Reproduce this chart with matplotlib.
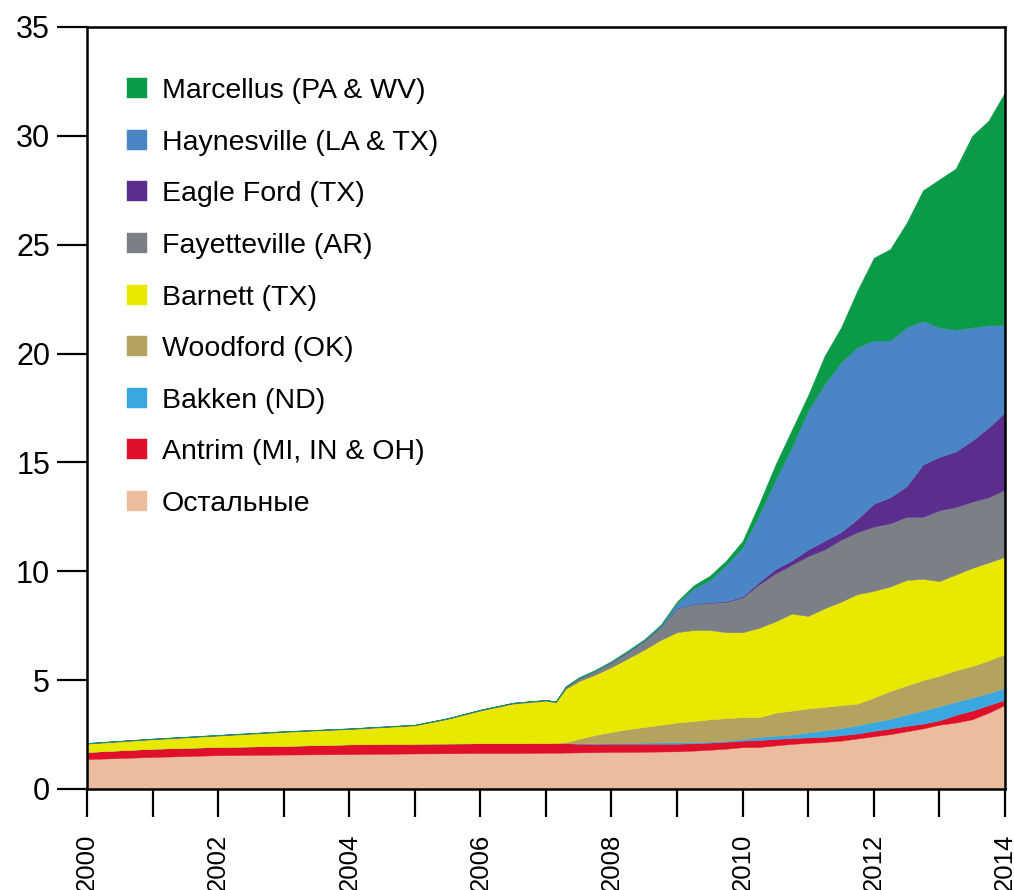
import matplotlib
matplotlib.use("Agg")
import matplotlib.pyplot as plt

plt.rcParams['font.family'] = ['Liberation Sans', 'DejaVu Sans']

# time points (years)
years = [2000, 2001, 2002, 2003, 2004, 2005, 2005.5, 2006, 2006.5, 2007,
         2007.15, 2007.3, 2007.5, 2007.75, 2008, 2008.25, 2008.5, 2008.75,
         2009, 2009.25, 2009.5, 2009.75, 2010, 2010.25, 2010.5, 2010.75,
         2011, 2011.25, 2011.5, 2011.75, 2012, 2012.25, 2012.5, 2012.75,
         2013, 2013.25, 2013.5, 2013.75, 2014]

# production by play (stacked from bottom)
others = [1.37, 1.47, 1.55, 1.58, 1.60, 1.63, 1.64, 1.65, 1.65, 1.66,
          1.66, 1.67, 1.68, 1.69, 1.70, 1.70, 1.71, 1.72,
          1.73, 1.76, 1.80, 1.85, 1.92, 1.93, 2.00, 2.07,
          2.12, 2.16, 2.22, 2.32, 2.42, 2.52, 2.65, 2.78,
          2.95, 3.05, 3.20, 3.50, 3.86]
antrim = [0.33, 0.38, 0.38, 0.40, 0.45, 0.45, 0.45, 0.45, 0.45, 0.44,
          0.44, 0.43, 0.40, 0.38, 0.38, 0.38, 0.37, 0.36,
          0.35, 0.34, 0.33, 0.32, 0.30, 0.32, 0.30, 0.27,
          0.25, 0.24, 0.25, 0.23, 0.25, 0.26, 0.25, 0.22,
          0.20, 0.35, 0.40, 0.35, 0.23]
bakken = [0, 0, 0, 0, 0, 0, 0, 0, 0, 0,
          0, 0, 0.02, 0.03, 0.03, 0.04, 0.05, 0.06,
          0.07, 0.06, 0.05, 0.05, 0.08, 0.14, 0.15, 0.16,
          0.23, 0.30, 0.33, 0.37, 0.41, 0.44, 0.52, 0.60,
          0.65, 0.60, 0.60, 0.55, 0.55]
woodford = [0, 0, 0, 0, 0, 0, 0, 0, 0, 0.01,
            0.02, 0.05, 0.20, 0.38, 0.51, 0.63, 0.72, 0.81,
            0.90, 0.96, 1.02, 1.03, 1.00, 0.91, 1.05, 1.10,
            1.10, 1.07, 1.05, 1.00, 1.12, 1.28, 1.33, 1.40,
            1.40, 1.45, 1.45, 1.50, 1.56]
barnett = [0.38, 0.43, 0.52, 0.64, 0.70, 0.84, 1.13, 1.50, 1.82, 1.94,
           1.86, 2.45, 2.65, 2.77, 2.98, 3.25, 3.55, 3.90,
           4.15, 4.18, 4.10, 3.95, 3.90, 4.10, 4.20, 4.45,
           4.25, 4.53, 4.75, 5.03, 4.90, 4.80, 4.85, 4.65,
           4.35, 4.40, 4.50, 4.50, 4.46]
fayetteville = [0.02, 0.02, 0.02, 0.02, 0.02, 0.02, 0.02, 0.03, 0.03, 0.03,
                0.03, 0.08, 0.13, 0.17, 0.22, 0.30, 0.40, 0.60,
                1.10, 1.20, 1.25, 1.40, 1.60, 2.00, 2.20, 2.25,
                2.75, 2.70, 2.85, 2.85, 2.95, 2.90, 2.90, 2.85,
                3.25, 3.10, 3.05, 3.00, 3.09]
eagle_ford = [0, 0, 0, 0, 0, 0, 0, 0, 0, 0,
              0, 0, 0, 0, 0, 0, 0, 0,
              0, 0, 0.02, 0.03, 0.05, 0.10, 0.20, 0.20,
              0.30, 0.40, 0.35, 0.60, 1.05, 1.20, 1.40, 2.40,
              2.45, 2.55, 2.80, 3.20, 3.55]
haynesville = [0.01, 0.01, 0.01, 0.01, 0.01, 0.01, 0.01, 0.01, 0.01, 0.01,
               0.01, 0.02, 0.02, 0.02, 0.03, 0.03, 0.04, 0.05,
               0.25, 0.70, 1.03, 1.67, 2.25, 3.10, 4.10, 5.20,
               6.40, 7.20, 7.80, 7.90, 7.50, 7.20, 7.30, 6.60,
               5.95, 5.60, 5.20, 4.70, 4.00]
marcellus = [0.01, 0.01, 0.01, 0.01, 0.01, 0.01, 0.01, 0.01, 0.01, 0.01,
             0.01, 0.02, 0.03, 0.03, 0.03, 0.04, 0.04, 0.05,
             0.07, 0.15, 0.20, 0.20, 0.30, 0.50, 0.70, 0.80,
             0.70, 1.30, 1.60, 2.60, 3.80, 4.20, 4.80, 6.00,
             6.80, 7.40, 8.80, 9.40, 10.70]

labels = ['Остальные', 'Antrim (MI, IN & OH)', 'Bakken (ND)', 'Woodford (OK)',
          'Barnett (TX)', 'Fayetteville (AR)', 'Eagle Ford (TX)',
          'Haynesville (LA & TX)', 'Marcellus (PA & WV)']
colors = ['#ecbd9c', '#e0102a', '#3aa8e0', '#b3a35e', '#e8e800',
          '#7b7f86', '#5b2d8e', '#4a86c5', '#0a9a48']

fig = plt.figure(figsize=(10.14, 8.9), dpi=100)
ax = fig.add_axes([0.0858, 0.1135, 0.9052, 0.8562])

polys = ax.stackplot(years, others, antrim, bakken, woodford, barnett,
                     fayetteville, eagle_ford, haynesville, marcellus,
                     labels=labels, colors=colors, edgecolor='face', linewidth=0.3)

ax.set_xlim(2000, 2014)
ax.set_ylim(0, 35)
ax.set_yticks(range(0, 36, 5))
ax.set_xticks(range(2000, 2015))
ax.set_xticklabels([str(y) if y % 2 == 0 else '' for y in range(2000, 2015)],
                   rotation=90)

for s in ax.spines.values():
    s.set_linewidth(1.8)
ax.tick_params(axis='y', direction='out', length=21.5, width=1.6, pad=5, labelsize=22)
ax.tick_params(axis='x', direction='out', length=20, width=1.6, pad=12, labelsize=18.5)

h, l = ax.get_legend_handles_labels()
ax.legend(h[::-1], l[::-1], loc='upper left', bbox_to_anchor=(0.044, 0.933),
          frameon=False, fontsize=20.5, handlelength=0.7, handleheight=0.7,
          handletextpad=0.5, labelspacing=0.9, borderpad=0, borderaxespad=0)

fig.savefig('out.png', dpi=100)
